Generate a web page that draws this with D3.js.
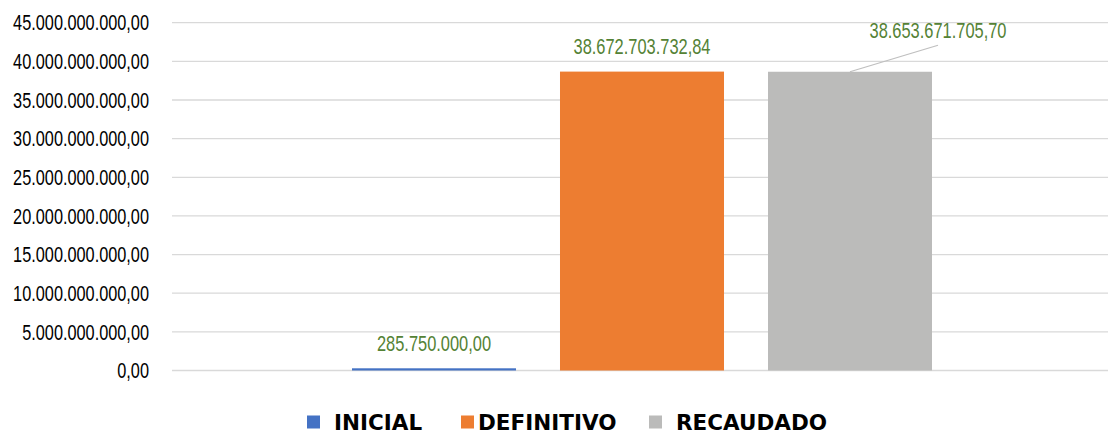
<!DOCTYPE html>
<html lang="es">
<head>
<meta charset="UTF-8">
<title>Presupuesto</title>
<style>
    body { margin: 0; background: #fff; }
    svg { display: block; }
    .tick-label, .data-label { font-family: "Liberation Sans", Arial, sans-serif; }
    .legend-label { font-family: "DejaVu Sans", sans-serif; font-weight: bold; }
</style>
</head>
<body>
<svg width="1108" height="435"></svg>
<script src="https://d3js.org/d3.v7.min.js"></script>
<script>
    // datos
    const series = ["INICIAL", "DEFINITIVO", "RECAUDADO"];
    const values = [285750000.00, 38672703732.84, 38653671705.70];
    const labels = ["285.750.000,00", "38.672.703.732,84", "38.653.671.705,70"];
    const yTicks = [0, 5e9, 10e9, 15e9, 20e9, 25e9, 30e9, 35e9, 40e9, 45e9];
    const colors = ["#4472C4", "#ED7D31", "#BBBBBA"];

    const svg = d3.select("svg");
    const plot = { left: 172, right: 1112, top: 22.7, bottom: 370.5 };

    const y = d3.scaleLinear().domain([0, 45e9]).range([plot.bottom, plot.top]);
    const x = d3.scaleBand().domain(series).range([plot.left, plot.right])
        .paddingInner(0.2115).paddingOuter(0.8654);

    const fmt = v => d3.format(",.2f")(v).replace(/,/g, "#").replace(".", ",").replace(/#/g, ".");

    // la fuente original es condensada: se mide el texto mas ancho y se comprime en horizontal
    function condenseFactor(sample, size, target) {
        const t = svg.append("text").attr("class", "tick-label").attr("font-size", size).text(sample);
        const w = t.node().getComputedTextLength();
        t.remove();
        return target / w;
    }

    // rejilla
    svg.append("g").selectAll("line")
        .data(yTicks)
        .enter().append("line")
        .attr("x1", plot.left).attr("x2", plot.right)
        .attr("y1", d => y(d)).attr("y2", d => y(d))
        .attr("stroke", "#d9d9d9").attr("stroke-width", 1.3);

    // etiquetas eje y
    const kTick = condenseFactor(fmt(45e9), 21.5, 136);
    svg.append("g").selectAll("text")
        .data(yTicks)
        .enter().append("text")
        .attr("class", "tick-label")
        .attr("transform", d => `translate(149,${y(d)}) scale(${kTick},1)`)
        .attr("text-anchor", "end")
        .attr("dy", "0.36em")
        .attr("font-size", 21.5)
        .attr("fill", "#000")
        .text(d => fmt(d));

    // barras
    svg.append("g").selectAll("rect")
        .data(values)
        .enter().append("rect")
        .attr("x", (d, i) => x(series[i]))
        .attr("y", d => y(d))
        .attr("width", x.bandwidth())
        .attr("height", d => y(0) - y(d))
        .attr("fill", (d, i) => colors[i]);

    // etiquetas de datos (la de RECAUDADO fue desplazada a mano)
    const labelShift = [[0, 0], [0, 0], [88, -16]];
    const labelGap = 25.5;

    const lx = i => x(series[i]) + x.bandwidth() / 2 + labelShift[i][0];
    const ly = i => y(values[i]) - labelGap + labelShift[i][1];

    svg.append("line")
        .attr("x1", x(series[2]) + x.bandwidth() / 2)
        .attr("y1", y(values[2]))
        .attr("x2", lx(2))
        .attr("y2", ly(2) + 15)
        .attr("stroke", "#bfbfbf").attr("stroke-width", 1.3);

    const kData = condenseFactor(labels[1], 22, 137);
    svg.append("g").selectAll("text")
        .data(labels)
        .enter().append("text")
        .attr("class", "data-label")
        .attr("transform", (d, i) => `translate(${lx(i)},${ly(i)}) scale(${kData},1)`)
        .attr("text-anchor", "middle")
        .attr("dy", "0.36em")
        .attr("font-size", 22)
        .attr("fill", "#548235")
        .text(d => d);

    // leyenda
    const legendX = [307, 461, 649];
    const legend = svg.append("g").selectAll("g")
        .data(series)
        .enter().append("g")
        .attr("transform", (d, i) => `translate(${legendX[i]},422)`);

    legend.append("rect")
        .attr("x", 0).attr("y", -6.5)
        .attr("width", 13).attr("height", 13)
        .attr("fill", (d, i) => colors[i]);

    legend.append("text")
        .attr("class", "legend-label")
        .attr("x", (d, i) => i === 1 ? 17 : 27)
        .attr("dy", "0.36em")
        .attr("font-size", 21.5)
        .attr("fill", "#000")
        .text(d => d);
</script>
</body>
</html>
